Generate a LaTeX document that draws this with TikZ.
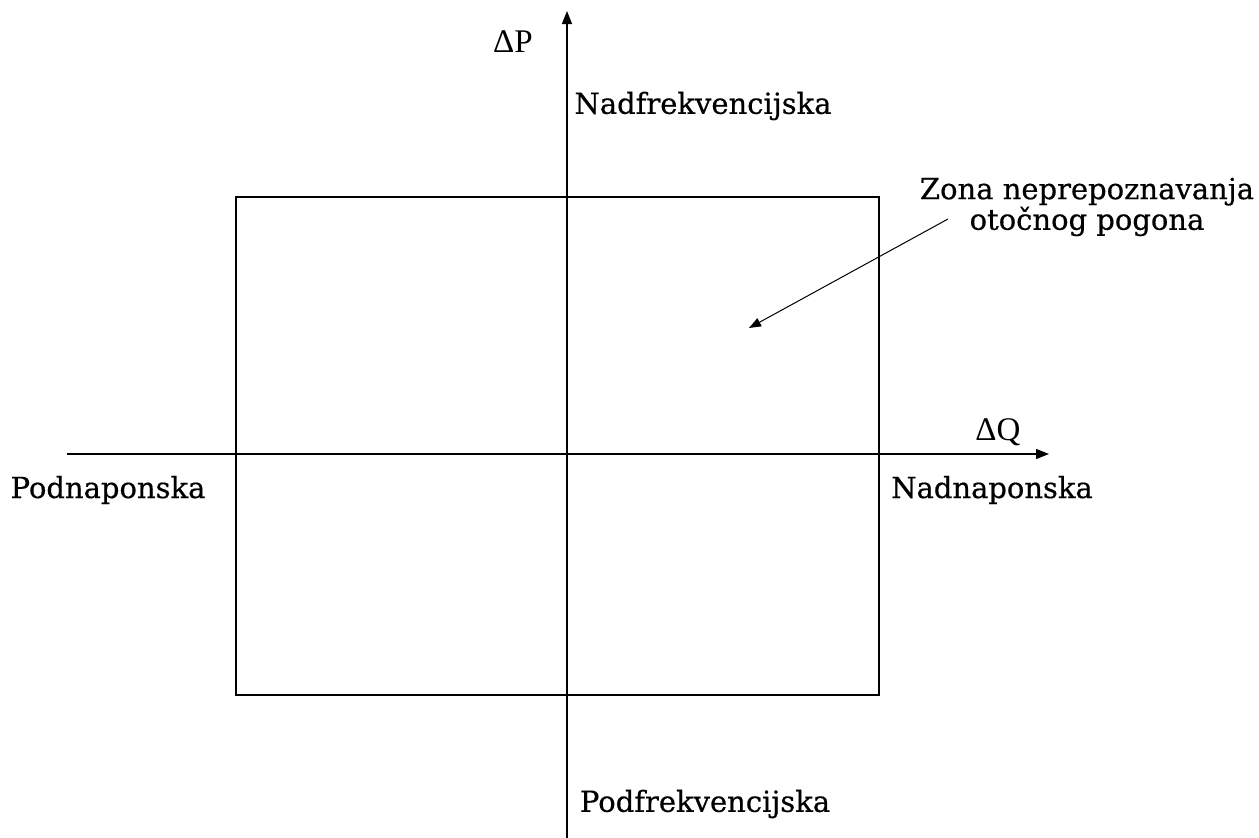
\documentclass[tikz,border=0pt]{standalone}
\usepackage{fontspec}
\setmainfont{DejaVu Serif}
\newfontfamily\lblfont[FakeBold=0.5]{DejaVu Serif}
\newfontfamily\timesf{Liberation Serif}
\usetikzlibrary{arrows.meta}
\begin{document}
\begin{tikzpicture}[x=1pt,y=-1pt,
  axis/.style={line width=1.3pt,-{Triangle[length=13pt,width=10pt]}},
  lbl/.style={font=\lblfont\fontsize{29}{27}\selectfont,inner sep=0pt},
  sym/.style={font=\timesf\fontsize{33}{34}\selectfont,inner sep=0pt}]
\useasboundingbox (0,0) rectangle (1259,838);
\node[draw,line width=1.8pt,minimum width=643pt,minimum height=498pt,inner sep=0pt] (box) at (557.5,446) {};
\coordinate (xs) at (67,454);
\coordinate (xe) at (1049,454);
\coordinate (ys) at (567,838);
\coordinate (ye) at (567,11);
\draw[axis] (xs) -- (xe);
\draw[axis] (ys) -- (ye);
\node[sym] (dp) at (513,42) {ΔP};
\node[sym] (dq) at (998,432) {ΔQ};
\node[lbl] (nadf) at (703,106) {Nadfrekvencijska};
\node[lbl] (podf) at (705,804) {Podfrekvencijska};
\node[lbl] (podn) at (108,490) {Podnaponska};
\node[lbl] (nadn) at (992,490) {Nadnaponska};
\node[lbl,align=center] (zona) at (1087,207) {Zona neprepoznavanja\\otočnog pogona};
\coordinate (zt) at (749,328);
\draw[line width=1pt,-{Triangle[length=12pt,width=9pt]}] (948,219) -- (zt);
\end{tikzpicture}
\end{document}
